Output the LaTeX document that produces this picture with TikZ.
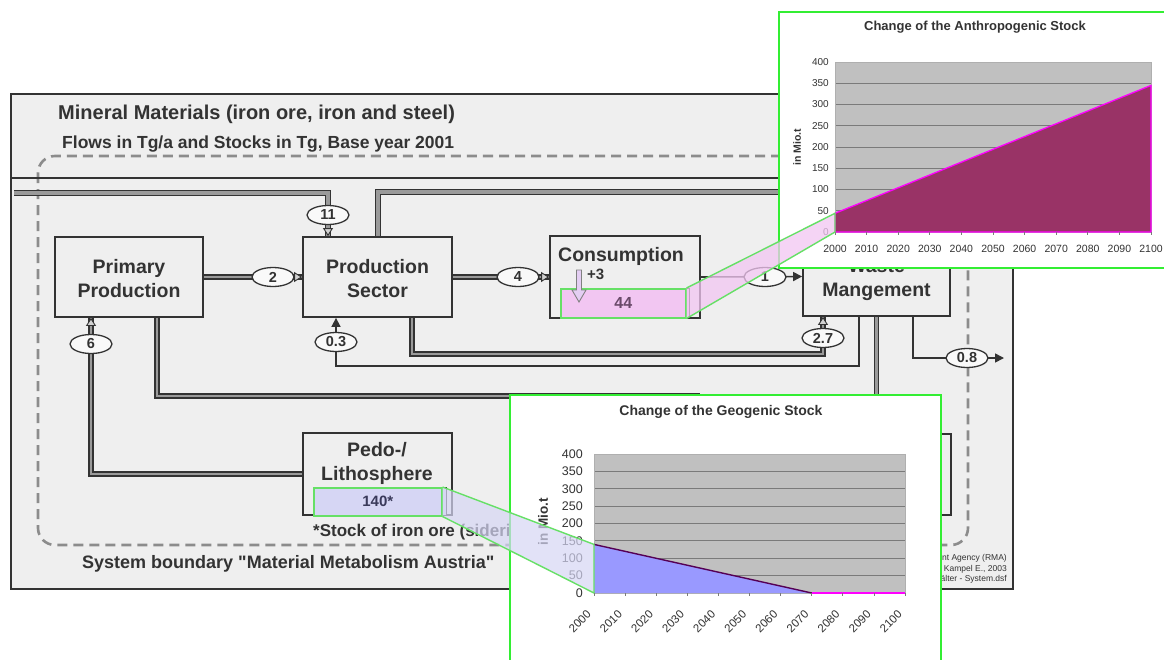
\documentclass[tikz,border=0pt]{standalone}
\usepackage{fontspec}
\setmainfont{Liberation Sans}[Ligatures=TeXOff]
\usetikzlibrary{shapes.geometric,arrows.meta,calc}
\newcommand\myfs[2]{\fontsize{#1}{#2}\selectfont}
\definecolor{bg}{HTML}{EFEFEF}
\definecolor{ink}{HTML}{333333}
\definecolor{pipegray}{HTML}{9A9A9A}
\definecolor{bound}{HTML}{8C8C8C}
\definecolor{framegreen}{HTML}{33EE33}
\definecolor{stockgreen}{HTML}{66E066}
\definecolor{plotgray}{HTML}{C0C0C0}
\definecolor{gridc}{HTML}{7A7A7A}
\definecolor{maroonc}{HTML}{993366}
\definecolor{magc}{HTML}{FF00FF}
\definecolor{periw}{HTML}{9999FF}
\definecolor{darkpurple}{HTML}{550055}
\definecolor{pinkstock}{HTML}{F2C6F2}
\definecolor{lavstock}{HTML}{D6D6F4}
\definecolor{t44}{HTML}{6A4A6A}
\definecolor{t140}{HTML}{3A3A5A}
\begin{document}
\begin{tikzpicture}[x=1pt,y=-1pt,
  box/.style={draw=ink, line width=1.8pt, fill=bg, inner sep=0pt},
  boxtext/.style={inner sep=0pt, align=center, font=\bfseries\myfs{19.5}{24}, text=ink},
  flowlbl/.style={ellipse, draw=ink, line width=1.3pt, fill=white!60!bg, minimum width=42pt, minimum height=19pt, inner sep=0pt, font=\bfseries\myfs{14.5}{15}, text=ink},
  pipe/.style={draw=ink, line width=1.3pt, double=pipegray, double distance=2.6pt},
  bigpipe/.style={draw=ink, line width=1.4pt, double=pipegray, double distance=3.8pt},
  openhead/.style={draw=ink, line width=0.9pt, -{Triangle[length=8pt, width=10pt, fill=pipegray!45]}},
  fullhead/.style={draw=ink, line width=1.6pt, -{Triangle[length=9pt, width=9pt]}},
  stockdark/.style={draw=ink, line width=1.4pt, inner sep=0pt, anchor=north west},
  stockgr/.style={draw=stockgreen, line width=1.5pt, inner sep=0pt, anchor=north west},
  chartframe/.style={draw=framegreen, line width=2pt, fill=white, inner sep=0pt, anchor=north west},
  bandline/.style={draw=stockgreen, line width=1.4pt}
]
\useasboundingbox (0,0) rectangle (1164,659);
\fill[white] (0,0) rectangle (1164,659);

% main frame
\node[draw=ink, line width=2pt, fill=bg, minimum width=1002pt, minimum height=495pt, anchor=north west, inner sep=0pt] (frame) at (10,93) {};
% system boundary
\draw[bound, line width=2.6pt, dash pattern=on 10pt off 6pt, rounded corners=17pt] (38,156) rectangle (968,545);

% texts
\node[anchor=base west, inner sep=0pt, font=\bfseries\myfs{20}{20}, text=ink] (title) at (58,119) {Mineral Materials (iron ore, iron and steel)};
\node[anchor=base west, inner sep=0pt, font=\bfseries\myfs{17.5}{18}, text=ink] (subtitle) at (62,148) {Flows in Tg/a and Stocks in Tg, Base year 2001};
\node[anchor=base west, inner sep=0pt, font=\bfseries\myfs{18}{18}, text=ink] (sysb) at (82,568) {System boundary "Material Metabolism Austria"};
\node[anchor=base west, inner sep=0pt, font=\bfseries\myfs{17}{18}, text=ink] (note) at (313,536) {*Stock of iron ore (siderite)};
\node[anchor=east, inner sep=0pt, font=\myfs{8.5}{9}, text=ink] (cr1) at (1007,558) {Federal Environment Agency (RMA)};
\node[anchor=east, inner sep=0pt, font=\myfs{8.5}{9}, text=ink] (cr2) at (1007,569) {Daxbeck H., Kampel E., 2003};
\node[anchor=east, inner sep=0pt, font=\myfs{8.5}{9}, text=ink] (cr3) at (1007,579) {Behälter - System.dsf};

% boxes
\node[box, minimum width=148pt, minimum height=80pt] (pp) at (129,277) {};
\node[box, minimum width=149pt, minimum height=80pt] (ps) at (377.5,277) {};
\node[box, minimum width=150pt, minimum height=82pt] (cons) at (625,277) {};
\node[box, minimum width=147pt, minimum height=79pt] (waste) at (876.5,276.5) {};
\node[box, minimum width=149pt, minimum height=82pt] (pedo) at (377.5,474) {};
\node[box, minimum width=148pt, minimum height=81pt] (lf) at (877,474.5) {};
\node[boxtext] (pptxt) at ($(pp)+(0,2)$) {Primary\\Production};
\node[boxtext] (pstxt) at ($(ps)+(0,2)$) {Production\\Sector};
\node[boxtext] (wastetxt) at ($(waste)+(0,3.5)$) {Waste\\Mangement};
\node[boxtext] (pedotxt) at (377,463) {Pedo-/\\Lithosphere};
\node[anchor=base west, inner sep=0pt, font=\bfseries\myfs{19.5}{20}, text=ink] (constxt) at (558,261) {Consumption};

% coordinates of flow labels and corners
\coordinate (c11) at (328,215);
\coordinate (c2) at (273,277);
\coordinate (c4) at (518,277);
\coordinate (c1) at (765,277);
\coordinate (c03) at (336,342);
\coordinate (c27) at (823,338);
\coordinate (c6) at (91,344);
\coordinate (c08) at (967,358);
\coordinate (r03) at (859,366);
\coordinate (r27) at (412,354);
\coordinate (r08) at (913,358);
\coordinate (out08) at (1004,358);
\coordinate (rb) at (157,396);
\coordinate (rbend) at (700,396);
\coordinate (r378) at (378,192);
\coordinate (pe) at (1010,192);
\coordinate (p11s) at (14,193);
\coordinate (tl1) at (12,178);
\coordinate (tl2) at (1010,178);

% top thin line
\draw[ink, line width=1.8pt] (tl1) -- (tl2);
% pipes
\draw[bigpipe] (p11s) -| (ps.north -| c11);
\draw[bigpipe] (r378 |- ps.north) -- (r378) -- (pe);
\draw[pipe] (pp.east) -- (ps.west);
\draw[pipe] (ps.east) -- (cons.west);
\draw[pipe] (r27 |- ps.south) -- (r27) -| (waste.south -| c27);
\draw[pipe] (pedo.west) -| (pp.south -| c6);
\draw[pipe] (rb |- pp.south) -- (rb) -- (rbend);
\draw[pipe] (waste.south) -- (waste.south |- lf.north);
% thin flows
\draw[fullhead] (cons.east) -- (waste.west);
\draw[fullhead] (r03 |- waste.south) -- (r03) -| (ps.south -| c03);
\draw[fullhead] (r08 |- waste.south) -- (r08) -- (out08);

% flow labels
\node[flowlbl] (e11) at (c11) {11};
\node[flowlbl] (e2) at (c2) {2};
\node[flowlbl] (e4) at (c4) {4};
\node[flowlbl] (e1) at (c1) {1};
\node[flowlbl] (e03) at (c03) {0.3};
\node[flowlbl] (e27) at (c27) {2.7};
\node[flowlbl] (e6) at (c6) {6};
\node[flowlbl] (e08) at (c08) {0.8};

% open arrow heads on pipes
\draw[openhead] ($(ps.north -| c11)+(0,-2)$) -- (ps.north -| c11);
\draw[openhead] ($(ps.west)+(-2,0)$) -- (ps.west);
\draw[openhead] ($(cons.west)+(-2,0)$) -- (cons.west);
\draw[openhead] ($(pp.south -| c6)+(0,2)$) -- (pp.south -| c6);
\draw[openhead] ($(waste.south -| c27)+(0,2)$) -- (waste.south -| c27);

% stocks
\node[stockdark, fill=pinkstock, minimum width=129pt, minimum height=29pt] (s44d) at (560,288) {};
\node[stockgr, minimum width=125pt, minimum height=29pt] (s44) at (560,288) {};
\node[font=\bfseries\myfs{16}{16}, text=t44] (t44n) at (s44) {44};
\draw[draw=gray, fill=lavstock!50!pinkstock, line width=0.9pt] (576.5,270) -- (581.5,270) -- (581.5,290) -- (586,290) -- (579,302) -- (572,290) -- (576.5,290) -- cycle;
\node[anchor=west, inner sep=0pt, font=\bfseries\myfs{15}{15}, text=ink] (plus3) at (587,274) {+3};

\node[stockdark, fill=lavstock, minimum width=133pt, minimum height=28pt] (s140d) at (313,487) {};
\node[stockgr, minimum width=128pt, minimum height=28pt] (s140) at (313,487) {};
\node[font=\bfseries\myfs{15}{15}, text=t140] (t140n) at (s140) {140*};

% ===== chart: anthropogenic stock =====
\node[chartframe, minimum width=392pt, minimum height=256pt] (chA) at (778,11) {};
\fill[plotgray] (835,62) rectangle (1151,232);
\foreach \k in {1,...,7} \draw[gridc, line width=1pt] (835,{232-21.25*\k}) -- (1151,{232-21.25*\k});
\draw[gridc!60, line width=0.8pt] (835,62) rectangle (1151,232);
\filldraw[fill=maroonc, draw=magc, line width=1.3pt] (835,232) -- (835,213.3) -- (1151,85.4) -- (1151,232) -- cycle;
\foreach \i in {0,...,10} \draw[gridc, line width=0.7pt] ({835+31.6*\i},232) -- ++(0,3);
\foreach \v [count=\i from 0] in {0,50,...,400}
  \node[anchor=east, inner sep=0pt, font=\myfs{10}{10}, text=ink] at (829,{232-21.25*\i}) {\v};
\foreach \v [count=\i from 0] in {2000,2010,...,2100}
  \node[inner sep=0pt, font=\myfs{10.5}{10}, text=ink] at ({835+31.6*\i},249) {\v};
\node[rotate=90, inner sep=0pt, font=\bfseries\myfs{10.5}{10}, text=ink] (chAy) at (797,147) {in Mio.t};
\node[inner sep=0pt, font=\bfseries\myfs{13}{13}, text=ink] (chAt) at (975,27) {Change of the Anthropogenic Stock};

% ===== chart: geogenic stock =====
\node[chartframe, minimum width=431pt, minimum height=280pt] (chG) at (509,394) {};
\fill[plotgray] (594,454) rectangle (905,593);
\foreach \k in {1,...,7} \draw[gridc, line width=1pt] (594,{593-17.375*\k}) -- (905,{593-17.375*\k});
\draw[gridc!60, line width=0.8pt] (594,454) rectangle (905,593);
\fill[periw] (594,593) -- (594,544.4) -- (811.7,593) -- cycle;
\draw[darkpurple, line width=1.4pt] (594,544.4) -- (811.7,593);
\draw[magc, line width=1.4pt] (811.7,593) -- (905,593);
\foreach \i in {0,...,10} \draw[gridc, line width=0.7pt] ({594+31.1*\i},593) -- ++(0,3);
\foreach \v [count=\i from 0] in {0,50,...,400}
  \node[anchor=east, inner sep=0pt, font=\myfs{12.5}{12}, text=ink] at (583,{593-17.375*\i}) {\v};
\foreach \v [count=\i from 0] in {2000,2010,...,2100}
  \node[rotate=45, anchor=north east, inner sep=0pt, font=\myfs{11.5}{12}, text=ink] at ({594+31.1*\i-8},609) {\v};
\node[rotate=90, inner sep=0pt, font=\bfseries\myfs{13.5}{13}, text=ink] (chGy) at (543,522) {in Mio.t};
\node[inner sep=0pt, font=\bfseries\myfs{14}{14}, text=ink] (chGt) at (721,412) {Change of the Geogenic Stock};

% ===== zoom bands =====
\coordinate (b1a) at (835,213.3);
\coordinate (b1b) at (835,232);
\fill[pinkstock, opacity=0.75] (s44.north east) -- (b1a) -- (b1b) -- (s44.south east) -- cycle;
\draw[bandline] (s44.north east) -- (b1a) -- (b1b);
\draw[bandline] (s44.south east) -- (b1b);
\coordinate (b2a) at (594,544.4);
\coordinate (b2b) at (594,593);
\fill[lavstock, opacity=0.7] (s140.north east) -- (b2a) -- (b2b) -- (s140.south east) -- cycle;
\draw[bandline] (s140.north east) -- (b2a) -- (b2b);
\draw[bandline] (s140.south east) -- (b2b);
\end{tikzpicture}
\end{document}
